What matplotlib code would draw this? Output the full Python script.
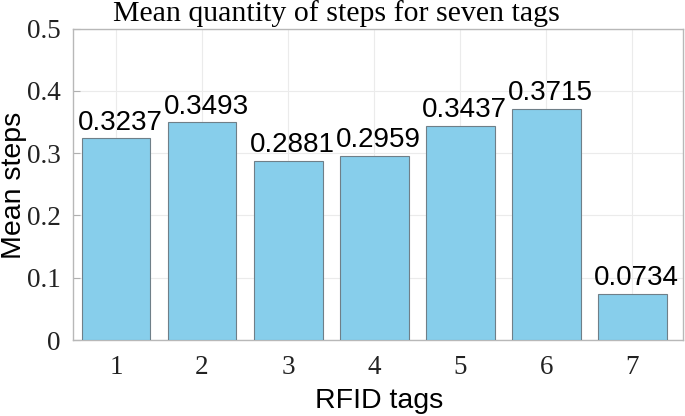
import matplotlib.pyplot as plt

tags = [1, 2, 3, 4, 5, 6, 7]
mean_steps = [0.3237, 0.3493, 0.2881, 0.2959, 0.3437, 0.3715, 0.0734]
labels = ['0.3237', '0.3493', '0.2881', '0.2959', '0.3437', '0.3715', '0.0734']

fig = plt.figure(figsize=(6.85, 4.16), dpi=100)
ax = fig.add_axes([73 / 685, 76 / 416, 610 / 685, 311.5 / 416])

ax.bar(tags, mean_steps, width=0.8, color='#87CEEB', edgecolor='#6f7f88', linewidth=0.8, zorder=3)
for x, v, t in zip(tags, mean_steps, labels):
    ax.annotate(t, (x, v), xytext=(3, 2), textcoords='offset points', ha='center', va='bottom',
                fontsize=20, family='Liberation Sans', color='black')

ax.set_xlim(0.5, 7.59)
ax.set_ylim(0, 0.5)
ax.set_xticks(tags)
ax.set_yticks([0, 0.1, 0.2, 0.3, 0.4, 0.5])
ax.set_yticklabels(['0', '0.1', '0.2', '0.3', '0.4', '0.5'])
ax.tick_params(direction='in', length=5, color='#b0b0b0', labelsize=19.5)
ax.tick_params(axis='x', pad=11)
ax.tick_params(axis='y', pad=9)
for lab in ax.get_xticklabels() + ax.get_yticklabels():
    lab.set_family('Liberation Serif')
    lab.set_color('#222222')
for s in ax.spines.values():
    s.set_color('#b8b8b8')
    s.set_linewidth(1)
ax.grid(True, color='#ebebeb', linewidth=0.8, zorder=0)

# axis labels placed in figure pixels to match the reference
fig.text(379 / 685, 8 / 416, 'RFID tags', fontsize=20.5, family='Liberation Sans',
         ha='center', va='baseline')
fig.text(14 / 685, 0.555, 'Mean steps', fontsize=20.5, family='Liberation Sans',
         ha='center', va='center', rotation=90)
fig.text(0.491, 0.968, 'Mean quantity of steps for seven tags', fontsize=21.5,
         family='Liberation Serif', ha='center', va='center')

plt.savefig('out.png', dpi=100)
